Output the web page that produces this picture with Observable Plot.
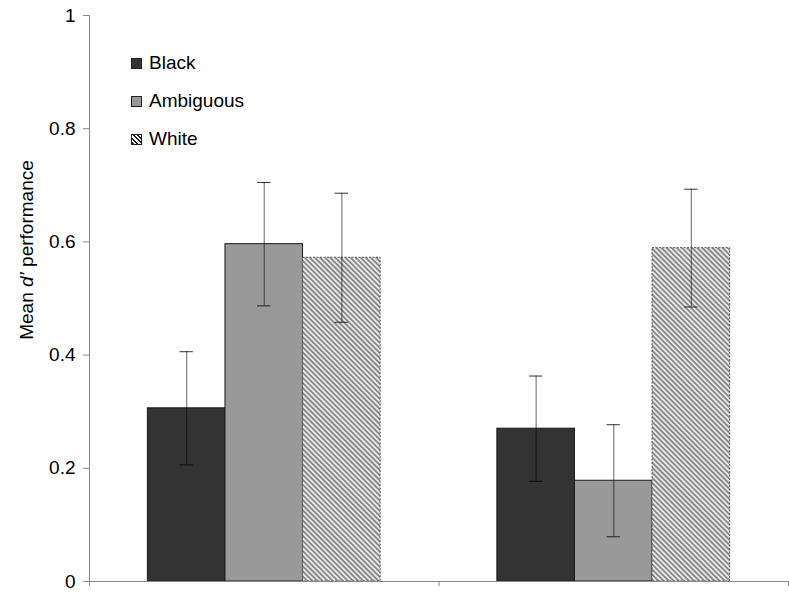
<!DOCTYPE html>
<html>
<head>
<meta charset="utf-8">
<script src="https://cdn.jsdelivr.net/npm/d3@7"></script>
<script src="https://cdn.jsdelivr.net/npm/@observablehq/plot@0.6"></script>
<style>
  body { margin: 0; background: #fff; }
  #wrap { position: relative; width: 789px; height: 600px; font-family: "Liberation Sans", Arial, sans-serif; }
  #legend { position: absolute; left: 131px; top: 44px; font-size: 19px; color: #000; }
  .row { display: flex; align-items: center; height: 38px; }
  .sw { width: 9px; height: 9px; border: 1px solid #222; margin-right: 7px; }
  #ylab { position: absolute; left: 27px; top: 250px; transform: translate(-50%, -50%) rotate(-90deg); white-space: nowrap; font-size: 19px; color: #000; }
</style>
</head>
<body>
<div id="wrap"></div>
<script>
const groups = ["Condition 1", "Condition 2"];
const categories = ["Black", "Ambiguous", "White"];
const meansG1 = [0.306, 0.596, 0.572];
const meansG2 = [0.270, 0.178, 0.589];
const errG1 = [0.100, 0.109, 0.114];
const errG2 = [0.093, 0.099, 0.104];
const yTicks = [0, 0.2, 0.4, 0.6, 0.8, 1];
const yTickLabels = ["0", "0.2", "0.4", "0.6", "0.8", "1"];

const fills = { Black: "#333333", Ambiguous: "#999999", White: "url(#hatch)" };
const barW = 0.222;   // bar width as a fraction of a group band
const capHalf = 0.019; // error-bar cap half width

const means = [meansG1, meansG2];
const errs = [errG1, errG2];
const rows = [];
groups.forEach((g, gi) => categories.forEach((c, ci) => {
  const center = gi + 0.5 + (ci - 1) * barW;
  rows.push({ group: g, cat: c, gi, ci, center, value: means[gi][ci], err: errs[gi][ci] });
}));

const barMarks = categories.map(c => Plot.rect(rows.filter(d => d.cat === c), {
  x1: d => d.center - barW / 2,
  x2: d => d.center + barW / 2,
  y1: 0,
  y2: "value",
  fill: fills[c],
  stroke: c === "White" ? "#555" : "#1a1a1a",
  strokeWidth: 1,
  strokeDasharray: c === "White" ? "2,1.5" : null
}));

const chart = Plot.plot({
  width: 789,
  height: 600,
  marginLeft: 89,
  marginRight: 1,
  marginTop: 15,
  marginBottom: 19,
  style: { fontFamily: "'Liberation Sans', Arial, sans-serif", fontSize: "19px", background: "#fff", color: "#000" },
  x: { domain: [0, 2] },
  y: { domain: [0, 1] },
  marks: [
    ...barMarks,
    Plot.ruleX(rows, { x: "center", y1: d => d.value - d.err, y2: d => d.value + d.err, stroke: "#000", strokeOpacity: 0.5, strokeWidth: 1.2 }),
    Plot.ruleY(rows, { y: d => d.value + d.err, x1: d => d.center - capHalf, x2: d => d.center + capHalf, stroke: "#000", strokeOpacity: 0.8 }),
    Plot.ruleY(rows, { y: d => d.value - d.err, x1: d => d.center - capHalf, x2: d => d.center + capHalf, stroke: "#000", strokeOpacity: 0.8 }),
    Plot.ruleX([0], { y1: 0, y2: 1, stroke: "#888" }),
    Plot.ruleY([0], { stroke: "#888" }),
    Plot.axisY({ ticks: yTicks, tickFormat: (d, i) => yTickLabels[yTicks.indexOf(d)], tickSize: 6, tickPadding: 8, stroke: "#888", fill: "#000", label: null }),
    Plot.axisX({ ticks: [0, 1, 2], tickFormat: () => "", tickSize: 5, stroke: "#888", label: null })
  ]
});

// hatch pattern definition for the "White" bars
const ns = "http://www.w3.org/2000/svg";
const defs = document.createElementNS(ns, "defs");
defs.innerHTML = '<pattern id="hatch" patternUnits="userSpaceOnUse" width="3.6" height="3.6" patternTransform="rotate(-45)">' +
  '<rect width="3.6" height="3.6" fill="#e8e8e8"/><rect width="1.8" height="3.6" fill="#888888"/></pattern>';
chart.insertBefore(defs, chart.firstChild);

const wrap = document.getElementById("wrap");
wrap.appendChild(chart);

// legend
const legend = document.createElement("div");
legend.id = "legend";
const swatchStyles = {
  Black: "background:#333;",
  Ambiguous: "background:#999;",
  White: "background: repeating-linear-gradient(45deg, #222 0 1.6px, #fff 1.6px 3.2px);"
};
categories.forEach(c => {
  const row = document.createElement("div");
  row.className = "row";
  const sw = document.createElement("div");
  sw.className = "sw";
  sw.setAttribute("style", swatchStyles[c]);
  const t = document.createElement("span");
  t.textContent = c;
  row.appendChild(sw);
  row.appendChild(t);
  legend.appendChild(row);
});
wrap.appendChild(legend);

// y label
const ylab = document.createElement("div");
ylab.id = "ylab";
ylab.innerHTML = "Mean <i>d’</i> performance";
wrap.appendChild(ylab);
</script>
</body>
</html>
